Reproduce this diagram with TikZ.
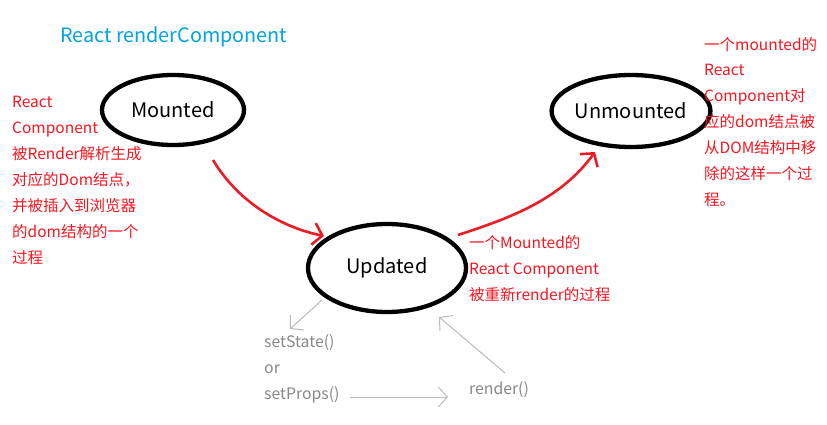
\documentclass[tikz,border=0pt]{standalone}
\usepackage{fontspec}
\setmainfont{Noto Sans CJK SC}
\usetikzlibrary{arrows.meta,shapes.geometric}
\definecolor{titleblue}{RGB}{0,162,232}
\definecolor{txtred}{RGB}{250,20,30}
\definecolor{arrred}{RGB}{237,28,36}
\definecolor{txtgray}{RGB}{135,135,135}
\definecolor{lngray}{RGB}{185,185,185}
\tikzset{
  state/.style={ellipse, draw=black, line width=4.3pt, inner sep=0pt, font=\fontsize{20}{22}\selectfont},
  redtxt/.style={text=txtred, inner sep=0pt, anchor=base west, font=\fontsize{15.5}{18}\selectfont},
  graytxt/.style={text=txtgray, inner sep=0pt, anchor=base west, font=\fontsize{15.8}{18}\selectfont},
  redarrow/.style={draw=arrred, line width=2.6pt, -{Straight Barb[length=9pt,width=22pt,line width=2.6pt]}},
  grayarrow/.style={draw=lngray, line width=1pt, -{Straight Barb[length=9pt,width=20pt,line width=1pt]}}
}
\begin{document}
\begin{tikzpicture}[x=1pt,y=-1pt]
\useasboundingbox (0,0) rectangle (827,424);
\node[text=titleblue, inner sep=0pt, anchor=base west, font=\fontsize{19.8}{22}\selectfont] (title) at (60,42) {React renderComponent};
\node[state, minimum width=142pt, minimum height=70pt] (mounted) at (173,110) {Mounted};
\node[state, minimum width=148pt, minimum height=72pt] (unmounted) at (631,111) {Unmounted};
\node[state, minimum width=158pt, minimum height=88pt] (updated) at (387,268) {Updated};
\foreach \t [count=\i] in {React, Component, 被Render解析生成, 对应的Dom结点，, 并被插入到浏览器, 的dom结构的一个, 过程}
  \node[redtxt] (left\i) at (12,{107+26*(\i-1)}) {\t};
\foreach \t [count=\i] in {一个mounted的, React, Component对, 应的dom结点被, 从DOM结构中移, 除的这样一个过, 程。}
  \node[redtxt] (right\i) at (704,{50+25.9*(\i-1)}) {\t};
\foreach \t [count=\i] in {一个Mounted的, React Component, 被重新render的过程}
  \node[redtxt] (mid\i) at (469,{248+26*(\i-1)}) {\t};
\node[graytxt] (setstate) at (264,347) {setState()};
\node[graytxt] (or) at (264,373) {or};
\node[graytxt] (setprops) at (264,399) {setProps()};
\node[graytxt] (render) at (469,394) {render()};
\coordinate (a1s) at (213,160);
\coordinate (a1e) at (324,236);
\coordinate (a2s) at (458,235);
\coordinate (a2e) at (595,152);
\draw[redarrow] (a1s) .. controls (240,205) and (285,228) .. (a1e);
\draw[redarrow] (a2s) .. controls (510,218) and (560,200) .. (a2e);
\coordinate (g1s) at (322,300);
\coordinate (g1e) at (290,329);
\coordinate (g2s) at (505,373);
\coordinate (g2e) at (439,317);
\coordinate (g3s) at (350,397);
\coordinate (g3e) at (448,397);
\draw[grayarrow] (g1s) -- (g1e);
\draw[grayarrow] (g2s) -- (g2e);
\draw[grayarrow] (g3s) -- (g3e);
\end{tikzpicture}
\end{document}
